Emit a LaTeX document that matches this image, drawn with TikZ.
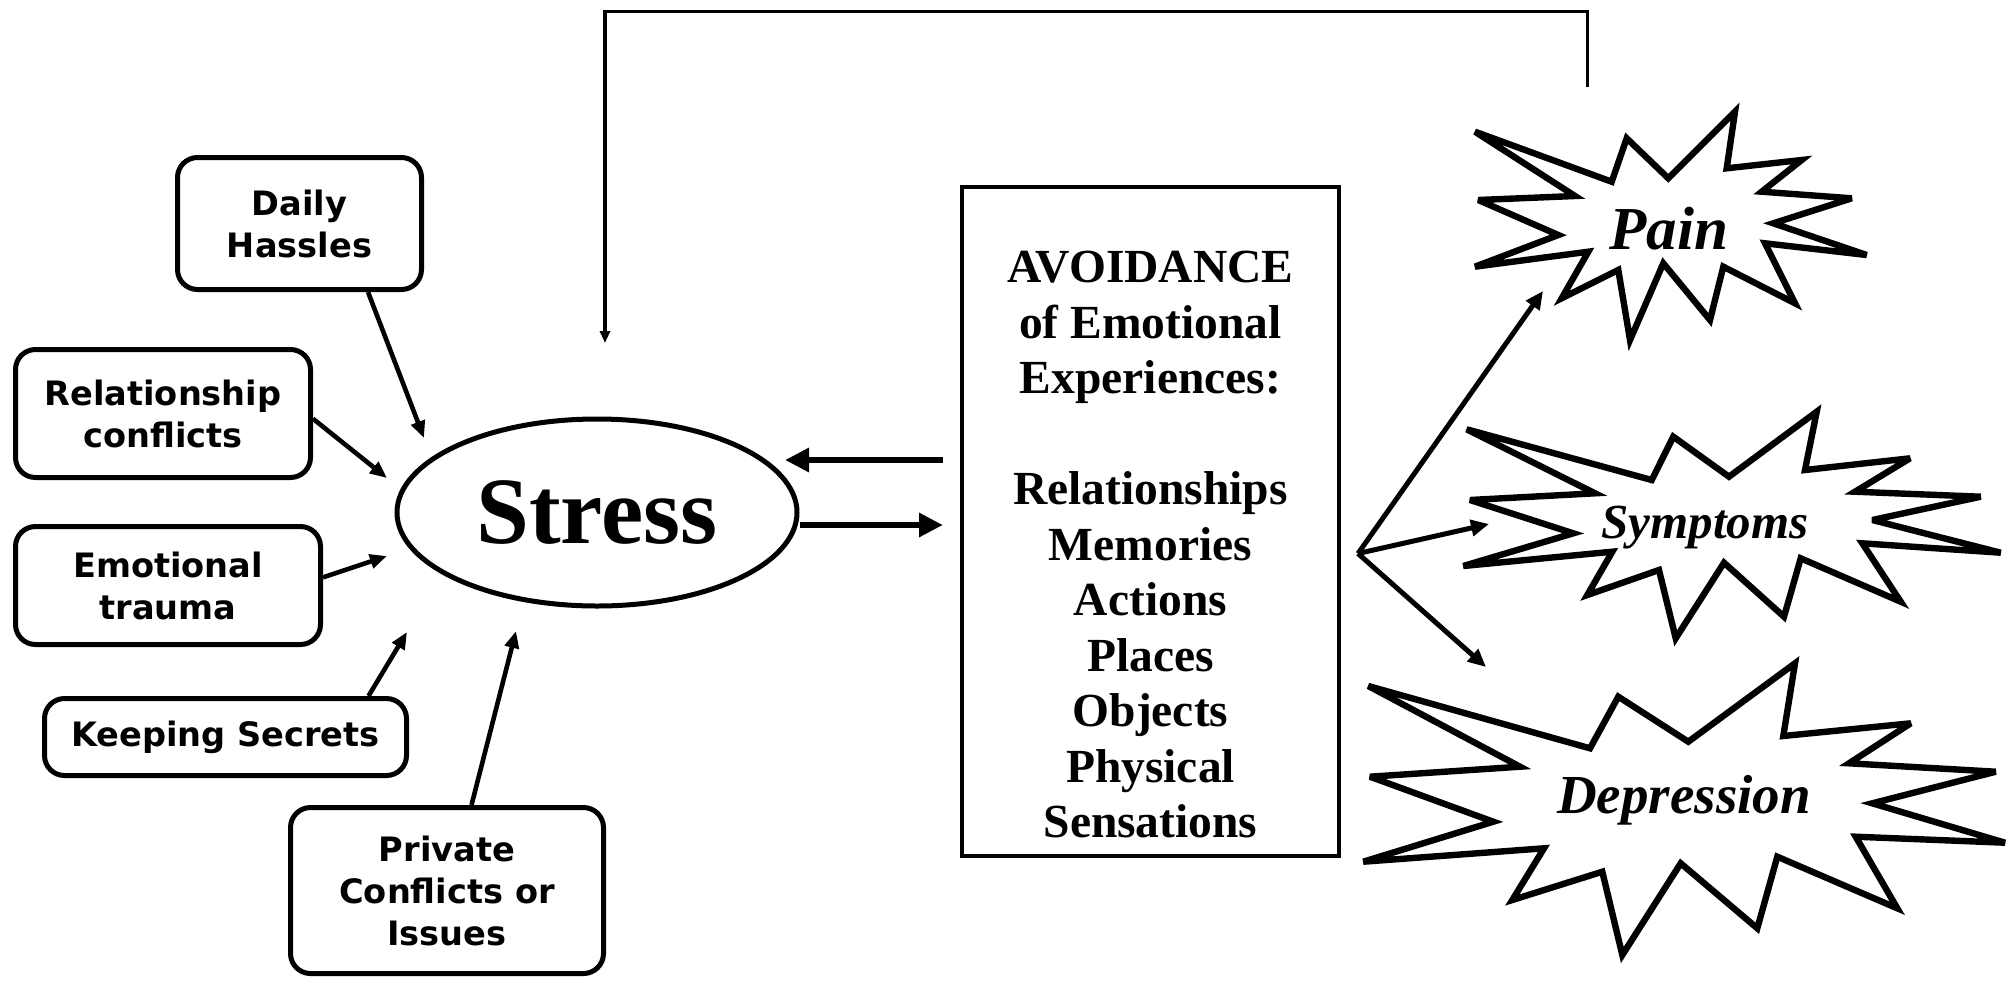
\documentclass[tikz,border=0pt]{standalone}
\usepackage{fontspec}
\setmainfont{Liberation Serif}
\newfontfamily\boxfont{DejaVu Sans}
\usetikzlibrary{arrows.meta,shapes.geometric}
\begin{document}
\begin{tikzpicture}[x=0.5pt,y=-0.5pt,
  srcbox/.style={draw, line width=2.5pt, rounded corners=10pt, align=center, inner sep=0pt,
    font=\boxfont\bfseries\fontsize{16.8pt}{21pt}\selectfont},
  inarr/.style={line width=2.3pt, -{Triangle[length=8.5pt,width=7pt]}},
  midarr/.style={line width=3.2pt, -{Triangle[length=12pt,width=11.5pt]}},
  outarr/.style={line width=2.5pt, -{Triangle[length=9pt,width=8pt]}},
  fbline/.style={line width=1.6pt, -{Triangle[length=6pt,width=5pt]}},
  burst/.style={draw, line width=3.2pt, fill=white, line join=miter, miter limit=4},
  avtext/.style={align=center, inner sep=0pt, font=\bfseries\fontsize{23.75pt}{27.75pt}\selectfont},
  scripttxt/.style={inner sep=0pt, font=\bfseries\itshape}
]
\useasboundingbox[fill=white] (0,0) rectangle (2009,981);

% source boxes
\node[srcbox, minimum width=122pt, minimum height=66pt] (daily) at (299.5,223.5) {Daily\\Hassles};
\node[srcbox, minimum width=147.5pt, minimum height=64pt] (rel) at (163,413.5) {Relationship\\conflicts};
\node[srcbox, minimum width=152.5pt, minimum height=59pt] (emo) at (168,585.5) {Emotional\\trauma};
\node[srcbox, minimum width=181pt, minimum height=38.5pt] (keep) at (225.5,737) {Keeping Secrets};
\node[srcbox, minimum width=156.5pt, minimum height=83pt] (priv) at (447,890.5) {Private\\Conflicts or\\Issues};

% stress
\node[ellipse, draw, line width=2.5pt, minimum width=200pt, minimum height=93.5pt, inner sep=0pt,
  font=\bfseries\fontsize{47.5pt}{50pt}\selectfont] (stress) at (597,512.5) {Stress};

% avoidance
\node[draw, line width=2pt, minimum width=188.5pt, minimum height=334.5pt, inner sep=0pt] (avoid) at (1150.5,521.5) {};
\node[avtext] (avoidtxt) at (1150.5,544.5) {AVOIDANCE\\of Emotional\\Experiences:\\~\\Relationships\\Memories\\Actions\\Places\\Objects\\Physical\\Sensations};

% bursts
\draw[burst] (1475,131.7) -- (1611.7,181.7) -- (1626.7,138.3) -- (1668.3,178.3) -- (1735,111.7) -- (1726.7,168.3) -- (1801.7,160) -- (1761.7,191.7) -- (1851.7,198.3) -- (1773.3,223.3) -- (1866.7,255) -- (1765,243.3) -- (1795,303.3) -- (1723.3,266.7) -- (1710,320) -- (1663.3,263.3) -- (1630,340) -- (1618.3,270) -- (1561.7,298.3) -- (1588.3,251.7) -- (1475,266.7) -- (1558.3,235) -- (1478.3,200) -- (1575,196) -- cycle;
\draw[burst] (1466.7,429.3) -- (1651.7,480) -- (1673.3,436.7) -- (1729,476.7) -- (1816.7,411.7) -- (1805,470) -- (1910,458.3) -- (1855,491.7) -- (1980.7,496.7) -- (1872.3,520) -- (2000.7,552.7) -- (1862.3,543.3) -- (1900.7,601.7) -- (1800.7,558.3) -- (1784,616.7) -- (1724,562.7) -- (1675.7,638.3) -- (1659,570) -- (1587.3,595) -- (1612.3,551.7) -- (1463.3,566) -- (1573.3,533.3) -- (1470,500) -- (1595,493.3) -- cycle;
\draw[burst] (1368.3,686) -- (1590,748.3) -- (1618.3,696.7) -- (1688.3,741.7) -- (1795,663.3) -- (1783.3,736) -- (1910.7,723.3) -- (1849,763.3) -- (1995.7,771.7) -- (1872.3,803.3) -- (2005,842.7) -- (1855.7,836.7) -- (1897.3,908.3) -- (1777.3,856.7) -- (1757.3,928.3) -- (1680.7,863.3) -- (1622.3,955) -- (1602.3,871.7) -- (1512.3,900) -- (1544,848.3) -- (1363.3,861.7) -- (1493.3,821.7) -- (1370,776.7) -- (1520,766.7) -- cycle;

\node[scripttxt, font=\bfseries\itshape\fontsize{30.5pt}{31pt}\selectfont] (paintxt) at (1669,229) {Pain};
\node[scripttxt, font=\bfseries\itshape\fontsize{24.5pt}{26pt}\selectfont] (symptxt) at (1705,528) {Symptoms};
\node[scripttxt, font=\bfseries\itshape\fontsize{27.5pt}{29pt}\selectfont] (deptxt) at (1684,800) {Depression};

% arrow end points
\coordinate (dailyTip) at (424,438);
\coordinate (relTip) at (387,478);
\coordinate (emoTip) at (387,556);
\coordinate (keepTip) at (407,632);
\coordinate (privTip) at (516,631);
\coordinate (toStressTip) at (785,460);
\coordinate (toAvoidTip) at (943,525);
\coordinate (fork) at (1358,553.5);
\coordinate (painTip) at (1543,291);
\coordinate (sympTip) at (1489,524);
\coordinate (depTip) at (1486,667);
\coordinate (fbStart) at (1587.5,87);
\coordinate (fbEnd) at (605,343);

% arrows into stress
\draw[inarr] (daily.-45) -- (dailyTip);
\draw[inarr] (rel.-2) -- (relTip);
\draw[inarr] (emo.3) -- (emoTip);
\draw[inarr] (keep.16.5) -- (keepTip);
\draw[inarr] (priv.74) -- (privTip);

% stress <-> avoidance
\draw[midarr] ([xshift=-8.5pt]avoid.west |- toStressTip) -- (toStressTip);
\draw[midarr] (stress.east |- toAvoidTip) -- (toAvoidTip);

% outcomes
\draw[outarr] (fork) -- (painTip);
\draw[outarr] (fork) -- (sympTip);
\draw[outarr] (fork) -- (depTip);

% feedback
\draw[fbline] (fbStart) -- (fbStart |- 0,11.5) -- (fbEnd |- 0,11.5) -- (fbEnd);
\end{tikzpicture}
\end{document}
